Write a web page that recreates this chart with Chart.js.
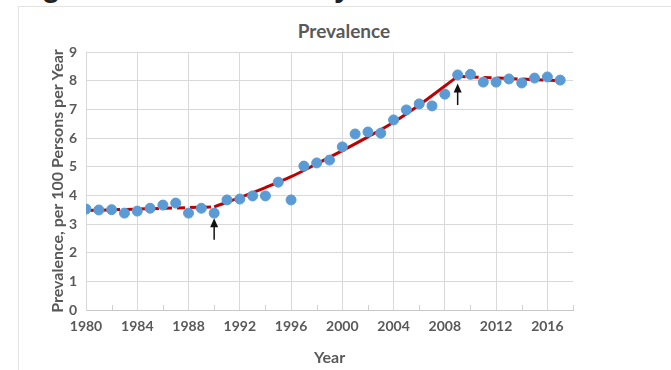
<!DOCTYPE html>
<html>
<head>
<meta charset="utf-8">
<script src="https://cdn.jsdelivr.net/npm/chart.js@4.4.1/dist/chart.umd.min.js"></script>
<style>
    html, body { margin: 0; padding: 0; background: #fff; overflow: hidden; }
    body { width: 671px; height: 370px; position: relative; }
    #card { position: absolute; left: 18px; top: 6px; width: 700px; height: 400px; border: 1px solid #e3e3e3; box-sizing: border-box; }
    .cut { position: absolute; font-family: "Liberation Sans", Arial, sans-serif; font-weight: bold; font-size: 30px; line-height: 30px; color: #222; top: -28px; }
    #title { position: absolute; left: 244px; width: 200px; top: 19px; text-align: center; font-family: Lato, "Open Sans", sans-serif; font-weight: bold; font-size: 19px; line-height: 24px; color: #595959; }
    #wrap { position: absolute; left: 0; top: 0; width: 671px; height: 370px; }
</style>
</head>
<body>
<div id="card"></div>
<span class="cut" style="left:42px">g</span>
<span class="cut" style="left:334px">y</span>
<div id="title">Prevalence</div>
<div id="wrap"><canvas id="prevChart"></canvas></div>
<script>
// observed prevalence, one value per year
const years = [1980, 1981, 1982, 1983, 1984, 1985, 1986, 1987, 1988, 1989,
               1990, 1991, 1992, 1993, 1994, 1995, 1996, 1997, 1998, 1999,
               2000, 2001, 2002, 2003, 2004, 2005, 2006, 2007, 2008, 2009,
               2010, 2011, 2012, 2013, 2014, 2015, 2016, 2017];
const prevalence = [3.52, 3.49, 3.50, 3.38, 3.45, 3.55, 3.66, 3.73, 3.38, 3.55,
                    3.38, 3.84, 3.87, 3.98, 3.98, 4.46, 3.84, 5.02, 5.13, 5.23,
                    5.69, 6.14, 6.21, 6.17, 6.63, 6.98, 7.19, 7.12, 7.53, 8.20,
                    8.22, 7.95, 7.95, 8.06, 7.92, 8.09, 8.13, 8.02];

// fitted trend, three segments
const earlyYears = [1980, 1990];
const earlyFit = [3.47, 3.60];
const midYears = [1990, 1992, 1994, 1996, 1998, 2000, 2002, 2004, 2006, 2009];
const midFit = [3.60, 3.92, 4.27, 4.65, 5.10, 5.56, 6.04, 6.55, 7.15, 8.15];
const lateYears = [2009, 2017];
const lateFit = [8.15, 8.00];

// joinpoint arrows: tip and tail values
const arrowYears = [1990, 2009];
const arrowTips = [3.20, 7.90];
const arrowTails = [2.45, 7.15];

const xTickYears = [1980, 1984, 1988, 1992, 1996, 2000, 2004, 2008, 2012, 2016];
const yTicks = [0, 1, 2, 3, 4, 5, 6, 7, 8, 9];

const FONT = 'Lato, "Open Sans", sans-serif';
const GREY = '#595959';

function pairs(xs, ys) {
    return xs.map((x, i) => ({ x: x, y: ys[i] }));
}

// arrows and small inner tick marks
const extras = {
    id: 'extras',
    afterDatasetsDraw(chart) {
        const ctx = chart.ctx;
        const xs = chart.scales.x;
        const ys = chart.scales.y;
        ctx.save();
        // minor ticks between labelled years
        ctx.strokeStyle = '#d0d0d0';
        ctx.lineWidth = 1;
        for (let i = 0; i < xTickYears.length; i++) {
            const px = Math.round(xs.getPixelForValue(xTickYears[i] + 2)) + 0.5;
            ctx.beginPath();
            ctx.moveTo(px, ys.bottom);
            ctx.lineTo(px, ys.bottom - 5);
            ctx.stroke();
        }
        // arrows
        ctx.strokeStyle = '#111';
        ctx.fillStyle = '#111';
        ctx.lineWidth = 1.5;
        arrowYears.forEach((yr, i) => {
            const px = xs.getPixelForValue(yr);
            const tip = ys.getPixelForValue(arrowTips[i]);
            const tail = ys.getPixelForValue(arrowTails[i]);
            ctx.beginPath();
            ctx.moveTo(px, tail);
            ctx.lineTo(px, tip + 6);
            ctx.stroke();
            ctx.beginPath();
            ctx.moveTo(px, tip);
            ctx.lineTo(px - 4, tip + 9);
            ctx.lineTo(px + 4, tip + 9);
            ctx.closePath();
            ctx.fill();
        });
        ctx.restore();
    }
};

const trendStyle = {
    type: 'line',
    borderColor: '#c00000',
    borderWidth: 3,
    pointRadius: 0,
    fill: false,
    order: 2
};

const ctx = document.getElementById('prevChart').getContext('2d');
const chart = new Chart(ctx, {
    type: 'scatter',
    data: {
        datasets: [{
            label: 'Prevalence',
            data: pairs(years, prevalence),
            backgroundColor: '#5b9bd5',
            borderColor: '#5b9bd5',
            pointRadius: 5,
            order: 1
        }, Object.assign({}, trendStyle, {
            label: 'Fit 1980-1990',
            data: pairs(earlyYears, earlyFit),
            borderDash: [8, 5]
        }), Object.assign({}, trendStyle, {
            label: 'Fit 1990-2009',
            data: pairs(midYears, midFit),
            cubicInterpolationMode: 'monotone'
        }), Object.assign({}, trendStyle, {
            label: 'Fit 2009-2017',
            data: pairs(lateYears, lateFit),
            borderDash: [8, 5]
        })]
    },
    options: {
        responsive: true,
        maintainAspectRatio: false,
        animation: false,
        layout: { padding: { left: 18, right: 98, top: 52, bottom: 0 } },
        plugins: {
            legend: { display: false },
            tooltip: { enabled: false },
            title: { display: false }
        },
        scales: {
            x: {
                type: 'linear',
                min: 1980,
                max: 2018,
                afterBuildTicks: function (scale) {
                    scale.ticks = xTickYears.map(v => ({ value: v }));
                },
                afterFit: function (scale) { scale.height = 60; },
                grid: { color: '#d9d9d9', drawTicks: false },
                border: { color: '#c8c8c8' },
                ticks: {
                    color: GREY,
                    padding: 8,
                    font: { family: FONT, size: 14, weight: 'bold' },
                    callback: function (value) { return String(value); }
                },
                title: {
                    display: true,
                    text: 'Year',
                    color: GREY,
                    font: { family: FONT, size: 16, weight: 'bold' },
                    padding: { top: 0, bottom: 3 }
                }
            },
            y: {
                min: 0,
                max: 9,
                afterBuildTicks: function (scale) {
                    scale.ticks = yTicks.map(v => ({ value: v }));
                },
                afterFit: function (scale) { scale.width = 68; },
                grid: { color: '#d9d9d9', drawTicks: false },
                border: { color: '#d9d9d9' },
                ticks: {
                    color: GREY,
                    padding: 9,
                    font: { family: FONT, size: 14, weight: 'bold' },
                    callback: function (value) { return String(value); }
                },
                title: {
                    display: true,
                    text: 'Prevalence, per 100 Persons per Year',
                    color: GREY,
                    font: { family: FONT, size: 16, weight: 'bold' },
                    padding: { top: 30, bottom: 0 }
                }
            }
        }
    },
    plugins: [extras]
});
</script>
</body>
</html>
